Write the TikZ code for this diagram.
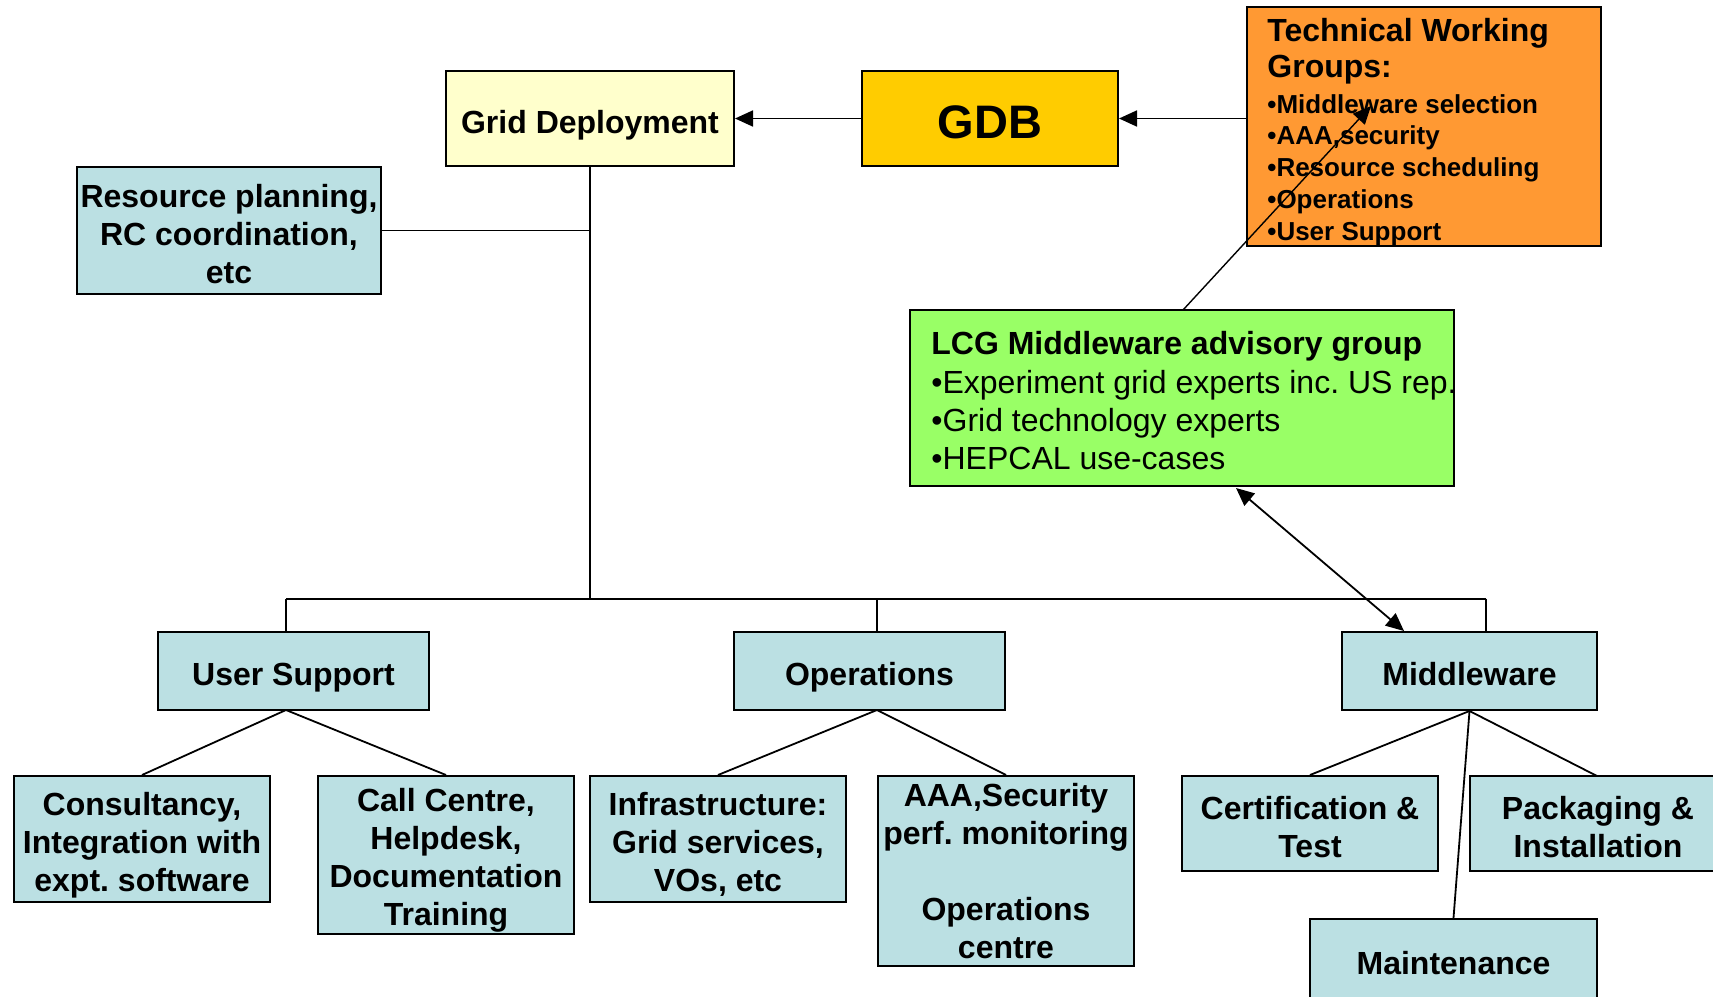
\documentclass[tikz,border=0pt]{standalone}
\usepackage{fontspec}
\setmainfont{Liberation Sans}
\usetikzlibrary{arrows.meta}
\frenchspacing
\definecolor{gdyel}{HTML}{FFFFCC}
\definecolor{gdbyel}{HTML}{FFCC00}
\definecolor{twgor}{HTML}{FF9933}
\definecolor{lcggr}{HTML}{99FF66}
\definecolor{boxcy}{HTML}{BBE0E3}
\newcommand\fst{\rule{0pt}{1.15em}}
\newcommand\lst{\rule[-0.225em]{0pt}{0.225em}}
\newcommand\bt[1]{\fst#1\lst}
\tikzset{
  box/.style={draw=black, line width=1pt, inner sep=0pt, align=center,
    font=\fontsize{16}{19}\selectfont\bfseries},
  cbox/.style={box, fill=boxcy},
  conn/.style={line width=0.9pt},
  arr/.style={line width=0.9pt, -{Triangle[length=9pt,width=8pt]}},
  darr/.style={line width=0.9pt, {Triangle[length=9pt,width=8pt]}-{Triangle[length=9pt,width=8pt]}},
  txt/.style={anchor=base west, inner sep=0pt},
  ttl/.style={txt, font=\fontsize{16}{19}\selectfont\bfseries},
  bul/.style={txt, font=\fontsize{13}{16}\selectfont\bfseries},
  reg/.style={txt, font=\fontsize{16}{19}\selectfont},
}
\begin{document}
\begin{tikzpicture}[x=0.5pt,y=-0.5pt]
\useasboundingbox (0,0) rectangle (1713,996);
\fill[white] (0,0) rectangle (1713,996);
% top row
\node[box, fill=gdyel, minimum width=144pt, minimum height=47.5pt] (gd) at (590,118.5) {\bt{Grid Deployment}};
\node[box, fill=gdbyel, minimum width=128pt, minimum height=47.5pt, font=\fontsize{23.5}{28}\selectfont\bfseries] (gdb) at (990,118.5) {\rule[-0.225em]{0pt}{1.29em}GDB};
\node[box, fill=twgor, minimum width=177pt, minimum height=119.5pt] (twg) at (1424,126.3) {};
\node[ttl] (t1) at (1267,41) {Technical Working};
\node[ttl] (t2) at (1267,77.5) {Groups:};
\node[bul] (t3) at (1267,113) {•Middleware selection};
\node[bul] (t4) at (1267,144.7) {•AAA,security};
\node[bul] (t5) at (1267,176.5) {•Resource scheduling};
\node[bul] (t6) at (1267,208.3) {•Operations};
\node[bul] (t7) at (1267,240) {•User Support};
\coordinate (twgtip) at (1371,106);
% resource planning
\node[cbox, minimum width=152pt, minimum height=63.5pt] (rp) at (229,230.5) {\fst Resource planning,\\RC coordination,\\etc\lst};
% LCG
\node[box, fill=lcggr, minimum width=272pt, minimum height=88pt] (lcg) at (1182,398) {};
\node[ttl] (l1) at (931,354.5) {LCG Middleware advisory group};
\node[reg] (l2) at (931,393) {•Experiment grid experts inc. US rep.};
\node[reg] (l3) at (931,431.3) {•Grid technology experts};
\node[reg] (l4) at (931,469.7) {•HEPCAL use-cases};
% second row
\node[cbox, minimum width=135.5pt, minimum height=39.25pt] (us) at (293.5,670.75) {\bt{User Support}};
\node[cbox, minimum width=135.5pt, minimum height=39.25pt] (op) at (869.5,670.75) {\bt{Operations}};
\node[cbox, minimum width=127.5pt, minimum height=39.25pt] (mw) at (1469.5,670.75) {\bt{Middleware}};
% third row
\node[cbox, minimum width=128pt, minimum height=63pt] (co) at (142,839) {\fst Consultancy,\\Integration with\\expt. software\lst};
\node[cbox, minimum width=128pt, minimum height=79pt] (cc) at (446,855) {\rule{0pt}{1.05em}Call Centre,\\Helpdesk,\\Documentation\\Training\lst};
\node[cbox, minimum width=128pt, minimum height=63pt] (in) at (718,839) {\fst Infrastructure:\\Grid services,\\VOs, etc\lst};
\node[cbox, minimum width=128pt, minimum height=95pt] (aaa) at (1006,871) {\rule{0pt}{0.95em}AAA,Security\\perf. monitoring\\~\\Operations\\centre\lst};
\node[cbox, minimum width=128pt, minimum height=47.5pt] (ct) at (1310,823.5) {\fst Certification \&\\Test\lst};
\node[cbox, minimum width=128pt, minimum height=47.5pt] (pk) at (1598,823.5) {\fst Packaging \&\\Installation\lst};
\node[cbox, minimum width=143.5pt, minimum height=41pt] (mt) at (1453.5,960) {\bt{Maintenance}};
% coordinates for the bus
\coordinate (bj) at (590,598.7);
\coordinate (bl) at (286,598.7);
\coordinate (bm) at (877,598.7);
\coordinate (br) at (1486,598.7);
% connectors
\draw[arr] (twg.west |- gdb.east) -- (gdb.east);
\draw[arr] (gdb.west) -- (gd.east);
\draw[conn] (gd.south) -- (bj);
\draw[conn] (rp.east) -- (rp.east -| gd.south);
\draw[conn] (bl) -- (br);
\draw[conn] (bl) -- (bl |- us.north);
\draw[conn] (bm) -- (bm |- op.north);
\draw[conn] (br) -- (br |- mw.north);
\draw[arr, line width=0.7pt] (1183,310) -- (twgtip);
\draw[darr] (1236,488) -- (1404,631);
\coordinate (usb) at (286,710);
\coordinate (opb) at (877,710);
\draw[conn] (usb) -- (co.north);
\draw[conn] (usb) -- (cc.north);
\draw[conn] (opb) -- (in.north);
\draw[conn] (opb) -- (aaa.north);
\draw[conn] (mw.south) -- (ct.north);
\draw[conn] (mw.south) -- (1597,776);
\draw[conn] (mw.south) -- (mt.north);
\end{tikzpicture}
\end{document}
